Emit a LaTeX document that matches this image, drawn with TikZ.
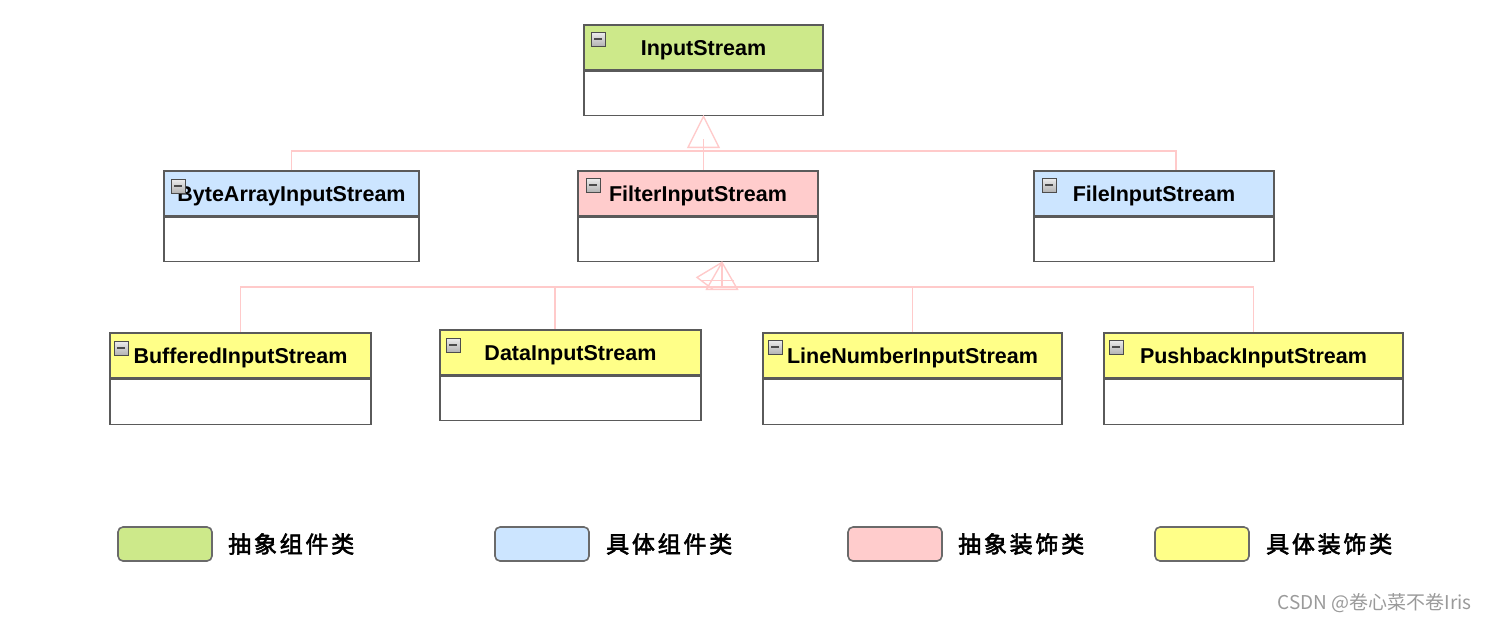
\documentclass[tikz,border=0pt]{standalone}
\usepackage{fontspec}
\setmainfont{Liberation Sans}
\newfontfamily\cjk[FakeBold=2.5]{Noto Sans CJK SC}
\newfontfamily\cjkw{Noto Sans CJK SC}
\definecolor{bx}{HTML}{5A5A5A}
\definecolor{cg}{HTML}{CDE98A}
\definecolor{cb}{HTML}{CCE5FF}
\definecolor{cp}{HTML}{FFCCCC}
\definecolor{cy}{HTML}{FFFF88}
\definecolor{lnk}{HTML}{FFCACA}
\definecolor{lgb}{HTML}{6A6A6A}
\definecolor{wm}{HTML}{9A9A9A}
\tikzset{
  hdr/.style={draw=bx, line width=1.6pt, minimum height=45pt, inner sep=0pt,
    text height=15.5pt, text depth=0pt,
    font=\fontsize{21.5}{24}\selectfont\bfseries},
  bdy/.style={draw=bx, line width=1.6pt, fill=white, minimum height=44pt, inner sep=0pt, anchor=north},
  conn/.style={draw=lnk, line width=1.4pt},
  lg/.style={draw=lgb, line width=1.6pt, rounded corners=5pt, minimum width=94pt, minimum height=34pt},
  lgt/.style={anchor=west, inner sep=0pt, font=\cjk\fontsize{23}{26}\selectfont},
  mico/.pic={
    \draw[draw=gray!60!black, top color=gray!15, bottom color=gray!60, line width=0.6pt]
      (0pt,0pt) rectangle (14pt,-14pt);
    \fill[black!70] (3pt,-6pt) rectangle (11pt,-8pt);
  }
}
\begin{document}
\begin{tikzpicture}[x=1pt,y=-1pt]
\useasboundingbox (0,0) rectangle (1488,622);

% ---- classes ----
\node[hdr, fill=cg, minimum width=239pt] (is) at (703.5,47.5) {InputStream};
\node[bdy, minimum width=239pt] (isb) at (is.south) {};

\node[hdr, fill=cb, minimum width=255pt] (bai) at (291.5,193.5) {ByteArrayInputStream};
\node[bdy, minimum width=255pt] (baib) at (bai.south) {};

\node[hdr, fill=cp, minimum width=240pt] (fil) at (698,193.5) {FilterInputStream};
\node[bdy, minimum width=240pt] (filb) at (fil.south) {};

\node[hdr, fill=cb, minimum width=240pt] (fin) at (1154,193.5) {FileInputStream};
\node[bdy, minimum width=240pt] (finb) at (fin.south) {};

\node[hdr, fill=cy, minimum width=261pt] (buf) at (240.5,355.5) {BufferedInputStream};
\node[bdy, minimum width=261pt, minimum height=45pt] (bufb) at (buf.south) {};

\node[hdr, fill=cy, minimum width=261pt] (dat) at (570.5,352.5) {DataInputStream};
\node[bdy, minimum width=261pt] (datb) at (dat.south) {};

\node[hdr, fill=cy, minimum width=299pt] (lin) at (912.5,355.5) {LineNumberInputStream};
\node[bdy, minimum width=299pt, minimum height=45pt] (linb) at (lin.south) {};

\node[hdr, fill=cy, minimum width=299pt] (pus) at (1253.5,355.5) {PushbackInputStream};
\node[bdy, minimum width=299pt, minimum height=45pt] (pusb) at (pus.south) {};

% ---- icons ----
\pic at ([shift={(8pt,-8pt)}]is.north west) {mico};
\pic at ([shift={(8pt,-9pt)}]bai.north west) {mico};
\pic at ([shift={(9pt,-8pt)}]fil.north west) {mico};
\pic at ([shift={(9pt,-8pt)}]fin.north west) {mico};
\pic at ([shift={(5pt,-9pt)}]buf.north west) {mico};
\pic at ([shift={(7pt,-9pt)}]dat.north west) {mico};
\pic at ([shift={(6pt,-8pt)}]lin.north west) {mico};
\pic at ([shift={(6pt,-8pt)}]pus.north west) {mico};

% ---- generalisation: level 1 ----
\coordinate (bus1) at (703.5,151);
\draw[conn] (isb.south) -- ++(-15.5pt,-31pt) -- ++(31pt,0pt) -- cycle;
\draw[conn] ([yshift=-23pt]isb.south) -- (isb.south |- fil.north);
\draw[conn] (bai.north) |- (bus1) -| ([xshift=22pt]fin.north);

% ---- generalisation: level 2 ----
\coordinate (bus2) at (722,287);
\coordinate (tip2) at ([xshift=24pt]filb.south);
\draw[conn] (tip2) -- ++(-15.5pt,-27pt) -- ++(31pt,0pt) -- cycle;
\draw[conn] (tip2) -- ++(-25pt,-15pt) -- ++(16pt,-12pt);
\draw[conn] ([shift={(-20pt,-18pt)}]tip2) -- ([shift={(12pt,-18pt)}]tip2);
\draw[conn] (tip2) -- (tip2 |- bus2);
\draw[conn] (buf.north) |- (bus2) -| (pus.north);
\draw[conn] ([xshift=-15.5pt]dat.north) -- ([xshift=-15.5pt]dat.north |- bus2);
\draw[conn] (lin.north) -- (lin.north |- bus2);

% ---- legend ----
\node[lg, fill=cg] (lg1) at (165,544) {};
\node[lgt] (lt1) at (228,544) {\addfontfeature{LetterSpace=12}抽象组件类};
\node[lg, fill=cb] (lg2) at (542,544) {};
\node[lgt] (lt2) at (606,544) {\addfontfeature{LetterSpace=12}具体组件类};
\node[lg, fill=cp] (lg3) at (895,544) {};
\node[lgt] (lt3) at (958,544) {\addfontfeature{LetterSpace=12}抽象装饰类};
\node[lg, fill=cy] (lg4) at (1202,544) {};
\node[lgt] (lt4) at (1266,544) {\addfontfeature{LetterSpace=12}具体装饰类};

% ---- watermark ----
\node[anchor=east, inner sep=0pt, text=wm, font=\cjkw\fontsize{19}{22}\selectfont] (wmk) at (1472,603) {CSDN @卷心菜不卷Iris};
\end{tikzpicture}
\end{document}
